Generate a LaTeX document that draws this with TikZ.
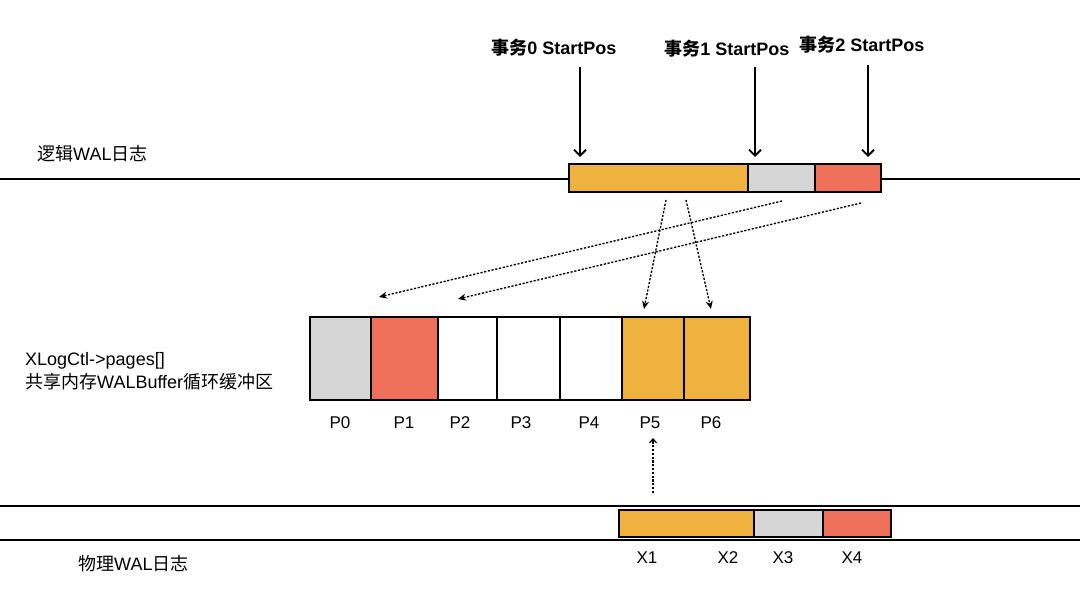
\documentclass[tikz,border=0pt]{standalone}
\usepackage{fontspec}
\setmainfont{Liberation Sans}
\newfontfamily\cjk{Noto Sans CJK SC}
\usetikzlibrary{arrows.meta}
\definecolor{orng}{HTML}{F0B23F}
\definecolor{gry}{HTML}{D6D6D6}
\definecolor{redc}{HTML}{EE6F5A}
\tikzset{
  cell/.style={draw=black, line width=2.2pt, inner sep=0pt, outer sep=0pt, anchor=north west},
  hline/.style={line width=1.8pt},
  downarrow/.style={line width=1.8pt, -{Straight Barb[length=6pt,width=12pt,line width=1.8pt]}},
  dotarrow/.style={line width=1.35pt, dash pattern=on 2.2pt off 1.6pt, -{Stealth[length=8pt,width=7pt]}},
  toplabel/.style={font=\fontsize{18}{21}\selectfont\bfseries, anchor=base, inner sep=0pt},
  lbl/.style={font=\fontsize{17}{20}\selectfont, anchor=base, inner sep=0pt},
  side/.style={font=\fontsize{18}{23}\selectfont, anchor=west, inner sep=0pt, align=left}
}
\begin{document}
\begin{tikzpicture}[x=1pt,y=-1pt]
\useasboundingbox (0,0) rectangle (1080,605);
\fill[white] (0,0) rectangle (1080,605);

% logical WAL line
\coordinate (ll0) at (0,179);
\coordinate (ll1) at (1080,179);
\draw[hline] (ll0) -- (ll1);
\node[side] (logical) at (37,154) {{\cjk 逻辑}WAL{\cjk 日志}};

\node[cell, fill=orng, minimum width=179pt, minimum height=28pt] (l0) at (569,164) {};
\node[cell, fill=gry, minimum width=67pt, minimum height=28pt] (l1) at (748,164) {};
\node[cell, fill=redc, minimum width=66pt, minimum height=28pt] (l2) at (815,164) {};

% top labels and arrows
\node[toplabel] (t0) at (554,54) {{\cjk\bfseries 事务}0 StartPos};
\node[toplabel] (t1) at (727,55) {{\cjk\bfseries 事务}1 StartPos};
\node[toplabel] (t2) at (862,51) {{\cjk\bfseries 事务}2 StartPos};
\coordinate (s0) at (580,67);  \coordinate (e0) at (580,157);
\coordinate (s1) at (755,67);  \coordinate (e1) at (755,157);
\coordinate (s2) at (868,65);  \coordinate (e2) at (868,157);
\draw[downarrow] (s0) -- (e0);
\draw[downarrow] (s1) -- (e1);
\draw[downarrow] (s2) -- (e2);

% buffer
\node[side] (bufl) at (25,371) {XLogCtl->pages[]\\{\cjk 共享内存}WALBuffer{\cjk 循环缓冲区}};
\node[cell, fill=gry, minimum width=61pt, minimum height=83pt] (p0) at (310,317) {};
\node[cell, fill=redc, minimum width=67pt, minimum height=83pt] (p1) at (371,317) {};
\node[cell, fill=white, minimum width=59pt, minimum height=83pt] (p2) at (438,317) {};
\node[cell, fill=white, minimum width=63pt, minimum height=83pt] (p3) at (497,317) {};
\node[cell, fill=white, minimum width=62pt, minimum height=83pt] (p4) at (560,317) {};
\node[cell, fill=orng, minimum width=62pt, minimum height=83pt] (p5) at (622,317) {};
\node[cell, fill=orng, minimum width=66pt, minimum height=83pt] (p6) at (684,317) {};

\node[lbl] (n0) at (340,428) {P0};
\node[lbl] (n1) at (404,428) {P1};
\node[lbl] (n2) at (460,428) {P2};
\node[lbl] (n3) at (521,428) {P3};
\node[lbl] (n4) at (589,428) {P4};
\node[lbl] (n5) at (650,428) {P5};
\node[lbl] (n6) at (711,428) {P6};

% dotted mapping arrows
\coordinate (d1s) at (782,201); \coordinate (d1e) at (379,297);
\coordinate (d2s) at (861,203); \coordinate (d2e) at (458,299);
\coordinate (d3s) at (666,200); \coordinate (d3e) at (644,309);
\coordinate (d4s) at (686,200); \coordinate (d4e) at (711,309);
\draw[dotarrow] (d1s) -- (d1e);
\draw[dotarrow] (d2s) -- (d2e);
\draw[dotarrow] (d3s) -- (d3e);
\draw[dotarrow] (d4s) -- (d4e);

% physical WAL
\coordinate (pa0) at (0,506); \coordinate (pa1) at (1080,506);
\coordinate (pb0) at (0,540); \coordinate (pb1) at (1080,540);
\draw[hline] (pa0) -- (pa1);
\draw[hline] (pb0) -- (pb1);
\node[side] (physical) at (78,564) {{\cjk 物理}WAL{\cjk 日志}};

\node[cell, fill=orng, minimum width=135pt, minimum height=27pt] (x0) at (619,510) {};
\node[cell, fill=gry, minimum width=69pt, minimum height=27pt] (x1) at (754,510) {};
\node[cell, fill=redc, minimum width=68pt, minimum height=27pt] (x2) at (823,510) {};

\node[lbl] (m1) at (647,563) {X1};
\node[lbl] (m2) at (728,563) {X2};
\node[lbl] (m3) at (783,563) {X3};
\node[lbl] (m4) at (852,563) {X4};

\coordinate (us) at (653,493); \coordinate (ue) at (653,438);
\draw[dotarrow, line width=1.2pt, -{Straight Barb[length=4pt,width=7pt]}] (us) -- (ue);
\end{tikzpicture}
\end{document}
